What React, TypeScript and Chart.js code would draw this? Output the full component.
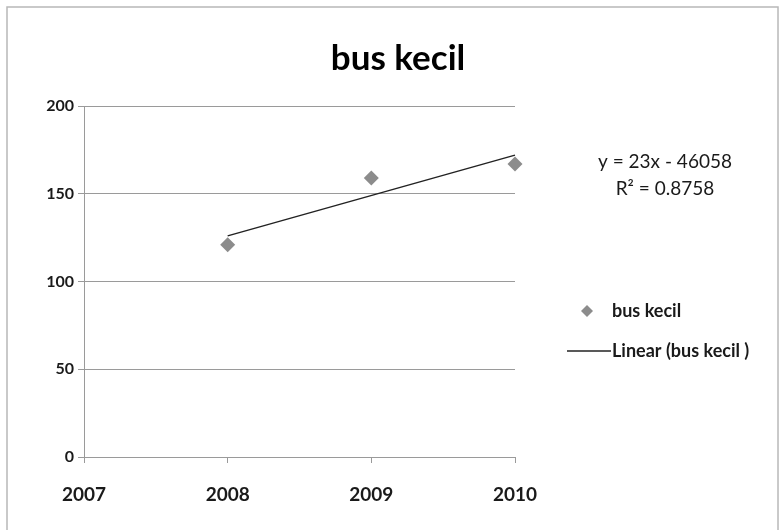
import React, { useEffect, useRef } from "react";
import { Chart, registerables } from "chart.js";

Chart.register(...registerables);

// Observed yearly counts of small buses
const years = [2008, 2009, 2010];
const busKecil = [121, 159, 167];

// Linear trendline as printed on the chart: y = 23x - 46058
const trendSlope = 23;
const trendIntercept = -46058;
const trendYears = [2008, 2010];

// Axis ticks
const xTicks = [2007, 2008, 2009, 2010];
const yTicks = [0, 50, 100, 150, 200];

const titleText = "bus kecil";
const equationLines = ["y = 23x - 46058", "R² = 0.8758"];
const seriesLabel = "bus kecil";
const trendLabel = "Linear (bus kecil )";

const W = 783;
const H = 530;
const markerColor = "#8c8c8c";
const textColor = "#1a1a1a";
const gridColor = "#9a9a9a";

const decorations = {
  id: "decorations",
  beforeDraw(chart: any) {
    const ctx = chart.ctx;
    ctx.save();
    ctx.fillStyle = "#ffffff";
    ctx.fillRect(0, 0, W, H);
    ctx.strokeStyle = "#b8b8b8";
    ctx.lineWidth = 1.5;
    ctx.strokeRect(7, 7, 771, H + 10);
    ctx.restore();
  },
  afterDraw(chart: any) {
    const ctx = chart.ctx;
    ctx.save();
    ctx.fillStyle = "#000";
    ctx.textAlign = "center";
    ctx.textBaseline = "alphabetic";
    ctx.font = "bold 35px Lato";
    ctx.fillText(titleText, 398, 70);

    ctx.fillStyle = textColor;
    ctx.font = "19px Lato";
    ctx.textBaseline = "middle";
    ctx.fillText(equationLines[0], 665, 162);
    ctx.fillText(equationLines[1], 665, 189);

    // legend
    ctx.textAlign = "left";
    ctx.font = "bold 18px Lato";
    ctx.fillStyle = markerColor;
    ctx.beginPath();
    ctx.moveTo(587, 305);
    ctx.lineTo(593, 311);
    ctx.lineTo(587, 317);
    ctx.lineTo(581, 311);
    ctx.closePath();
    ctx.fill();
    ctx.fillStyle = textColor;
    ctx.fillText(seriesLabel, 612, 311);

    ctx.strokeStyle = "#222";
    ctx.lineWidth = 1.5;
    ctx.beginPath();
    ctx.moveTo(567, 351);
    ctx.lineTo(611, 351);
    ctx.stroke();
    ctx.fillText(trendLabel, 612, 351);
    ctx.restore();
  },
};

export default function App() {
  const ref = useRef<HTMLCanvasElement | null>(null);

  useEffect(() => {
    if (!ref.current) return;
    const chart = new Chart(ref.current, {
      type: "scatter",
      data: {
        datasets: [
          {
            label: seriesLabel,
            data: years.map((x, i) => ({ x, y: busKecil[i] })),
            pointStyle: "rectRot",
            pointRadius: 7.5,
            pointBackgroundColor: markerColor,
            pointBorderColor: markerColor,
            pointBorderWidth: 0,
            showLine: false,
            clip: false,
            order: 2,
          },
          {
            label: trendLabel,
            type: "line",
            data: trendYears.map((x) => ({ x, y: trendSlope * x + trendIntercept })),
            borderColor: "#222222",
            borderWidth: 1.5,
            pointRadius: 0,
            fill: false,
            clip: false,
            order: 1,
          } as any,
        ],
      },
      plugins: [decorations],
      options: {
        responsive: false,
        animation: false,
        events: [],
        layout: { padding: { left: 0, top: 106, right: 268, bottom: 0 } },
        plugins: {
          legend: { display: false },
          title: { display: false },
          tooltip: { enabled: false },
        },
        scales: {
          x: {
            type: "linear",
            min: 2007,
            max: 2010,
            afterBuildTicks: (scale: any) => {
              scale.ticks = xTicks.map((v) => ({ value: v }));
            },
            afterFit: (scale: any) => {
              scale.height = H - 457;
            },
            grid: {
              drawOnChartArea: false,
              drawTicks: true,
              tickLength: 6,
              color: gridColor,
            },
            border: { display: true, color: gridColor, width: 1 },
            ticks: {
              callback: (v: any) => String(v),
              color: textColor,
              padding: 20,
              font: { family: "Lato", size: 19, weight: "bold" },
              maxRotation: 0,
            },
          },
          y: {
            type: "linear",
            min: 0,
            max: 200,
            afterBuildTicks: (scale: any) => {
              scale.ticks = yTicks.map((v) => ({ value: v }));
            },
            afterFit: (scale: any) => {
              scale.width = 84;
            },
            grid: {
              drawOnChartArea: true,
              drawTicks: true,
              tickLength: 6,
              color: gridColor,
            },
            border: { display: true, color: gridColor, width: 1 },
            ticks: {
              color: textColor,
              padding: 4,
              font: { family: "Lato", size: 16, weight: "bold" },
            },
          },
        },
      } as any,
    });
    return () => chart.destroy();
  }, []);

  return (
    <div style={{ position: "fixed", left: 0, top: 0, width: W, height: H, background: "#fff" }}>
      <canvas ref={ref} width={W} height={H} style={{ display: "block" }} />
    </div>
  );
}
